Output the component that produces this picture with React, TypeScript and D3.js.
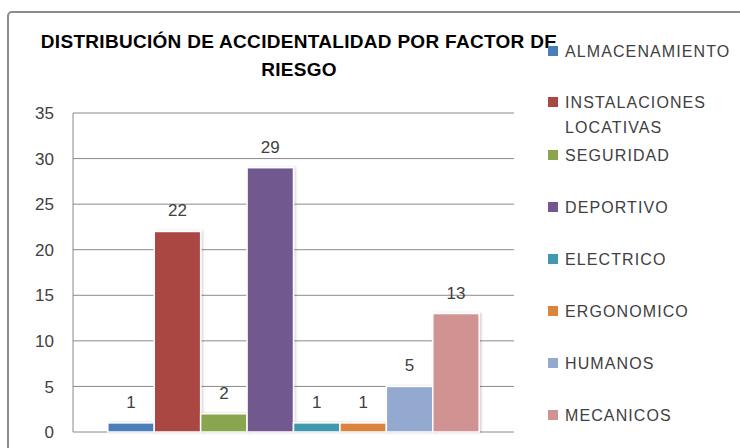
import * as d3 from "d3";
import React, { useEffect, useRef } from "react";

const categories = [
  "ALMACENAMIENTO",
  "INSTALACIONES LOCATIVAS",
  "SEGURIDAD",
  "DEPORTIVO",
  "ELECTRICO",
  "ERGONOMICO",
  "HUMANOS",
  "MECANICOS",
];
const values = [1, 22, 2, 29, 1, 1, 5, 13];
const palette = ["#4a7ebb", "#aa4643", "#89a54e", "#71588f", "#4198af", "#db843d", "#93a9cf", "#d19392"];
const yTicks = [0, 5, 10, 15, 20, 25, 30, 35];
const titleLines = ["DISTRIBUCIÓN DE ACCIDENTALIDAD POR FACTOR DE", "RIESGO"];

const width = 740;
const height = 448;
const plot = { left: 73, right: 514, top: 113, bottom: 432 };
const font = "'Liberation Sans', Arial, sans-serif";

const App = () => {
  const ref = useRef<SVGSVGElement>(null);

  useEffect(() => {
    const svg = d3.select(ref.current);
    svg.selectAll("*").remove();

    const defs = svg.append("defs");
    const f = defs.append("filter").attr("id", "shadow").attr("x", "-20%").attr("y", "-20%").attr("width", "140%").attr("height", "140%");
    f.append("feDropShadow").attr("dx", 1.5).attr("dy", 0).attr("stdDeviation", 1.2).attr("flood-color", "#000").attr("flood-opacity", 0.18);

    svg.append("rect").attr("width", width).attr("height", height).attr("fill", "#fff");
    // outer chart frame
    svg.append("rect")
      .attr("x", 8).attr("y", 12)
      .attr("width", 780).attr("height", 480)
      .attr("rx", 4)
      .attr("fill", "none")
      .attr("stroke", "#8c8c8c")
      .attr("stroke-width", 2);

    const x = d3.scaleBand<string>()
      .domain(categories)
      .range([plot.left, plot.right])
      .paddingInner(0)
      .paddingOuter(0.75);
    const y = d3.scaleLinear().domain([0, 35]).range([plot.bottom, plot.top]);

    // gridlines
    svg.append("g")
      .selectAll("line")
      .data(yTicks)
      .join("line")
      .attr("x1", plot.left).attr("x2", plot.right)
      .attr("y1", (d) => y(d)).attr("y2", (d) => y(d))
      .attr("stroke", "#8a8a8a")
      .attr("stroke-width", 1);
    svg.append("line")
      .attr("x1", plot.left).attr("x2", plot.left)
      .attr("y1", plot.top).attr("y2", plot.bottom)
      .attr("stroke", "#8a8a8a");

    svg.append("g")
      .selectAll("text")
      .data(yTicks)
      .join("text")
      .attr("x", 54)
      .attr("y", (d) => y(d))
      .attr("dy", "0.36em")
      .attr("text-anchor", "end")
      .attr("font-family", font)
      .attr("font-size", 17)
      .attr("fill", "#404040")
      .text((d) => String(d));

    // bars
    svg.append("g")
      .selectAll("rect")
      .data(values)
      .join("rect")
      .attr("x", (d, i) => x(categories[i]) as number)
      .attr("y", (d) => y(d))
      .attr("width", x.bandwidth())
      .attr("height", (d) => y(0) - y(d))
      .attr("fill", (d, i) => palette[i])
      .attr("stroke", "#fff")
      .attr("stroke-width", 1.5)
      .attr("filter", "url(#shadow)");

    svg.append("g")
      .selectAll("text")
      .data(values)
      .join("text")
      .attr("x", (d, i) => (x(categories[i]) as number) + x.bandwidth() / 2)
      .attr("y", (d) => y(d) - 15)
      .attr("text-anchor", "middle")
      .attr("font-family", font)
      .attr("font-size", 17)
      .attr("fill", "#404040")
      .text((d) => String(d));

    // title
    svg.append("g")
      .selectAll("text")
      .data(titleLines)
      .join("text")
      .attr("x", 299)
      .attr("y", (d, i) => 48 + i * 28)
      .attr("text-anchor", "middle")
      .attr("font-family", font)
      .attr("font-weight", "bold")
      .attr("font-size", 19)
      .attr("letter-spacing", 0.3)
      .attr("fill", "#000")
      .text((d) => d);

    // legend
    const legendY = [57, 108, 161, 213, 265, 317, 369, 421];
    const lg = svg.append("g");
    categories.forEach((c, i) => {
      const by = legendY[i];
      lg.append("rect")
        .attr("x", 548).attr("y", by - 11)
        .attr("width", 10).attr("height", 10)
        .attr("fill", palette[i]);
      const words = c === "INSTALACIONES LOCATIVAS" ? ["INSTALACIONES", "LOCATIVAS"] : [c];
      words.forEach((w, k) => {
        lg.append("text")
          .attr("x", 565)
          .attr("y", by + k * 25)
          .attr("font-family", font)
          .attr("font-size", 16)
          .attr("letter-spacing", 1.1)
          .attr("fill", "#404040")
          .text(w);
      });
    });
  }, []);

  return (
    <div style={{ position: "fixed", left: 0, top: 0 }}>
      <svg ref={ref} width={width} height={height} style={{ display: "block" }} />
    </div>
  );
};

export default App;
